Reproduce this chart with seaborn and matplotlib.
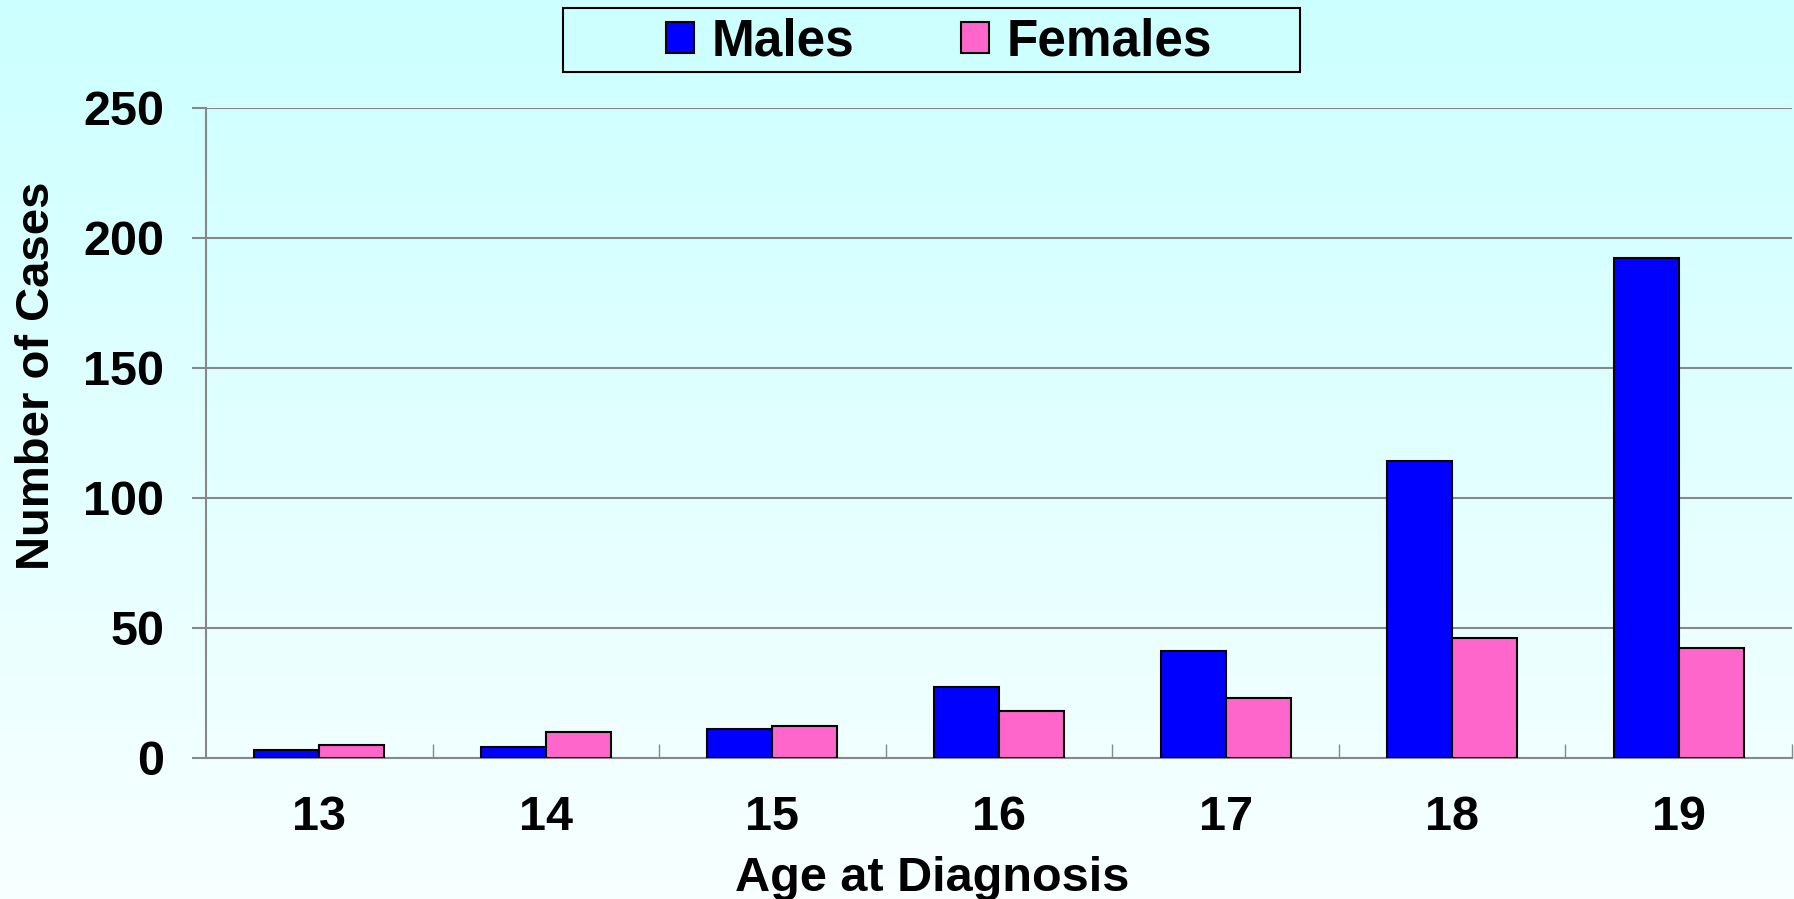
import numpy as np
import pandas as pd
import matplotlib
matplotlib.use("Agg")
import matplotlib.pyplot as plt
from matplotlib.patches import Patch, Rectangle
import seaborn as sns

# ---- data ----
ages = ["13", "14", "15", "16", "17", "18", "19"]
males = [3, 4, 11, 27, 41, 114, 192]
females = [5, 10, 12, 18, 23, 46, 42]
series_names = ["Males", "Females"]
y_ticks = [0, 50, 100, 150, 200, 250]

df = pd.DataFrame({
    "Age": ages * 2,
    "Cases": males + females,
    "Sex": [series_names[0]] * len(ages) + [series_names[1]] * len(ages),
})

sns.set_theme(style="white")
plt.rcParams["font.family"] = ["Liberation Sans", "DejaVu Sans"]
plt.rcParams["font.weight"] = "bold"
plt.rcParams["text.color"] = "black"

W, H = 1794, 899
fig = plt.figure(figsize=(W / 100, H / 100), dpi=100)

# background gradient
bg = fig.add_axes([0, 0, 1, 1], zorder=-10)
top = np.array([204, 255, 255]) / 255
bot = np.array([248, 255, 255]) / 255
t = np.linspace(0, 1, 256)[:, None]
grad = top[None, :] * (1 - t) + bot[None, :] * t
bg.imshow(grad[:, None, :].repeat(2, axis=1), aspect="auto", extent=[0, 1, 0, 1])
bg.set_axis_off()

ax = fig.add_axes([206 / W, 1 - 757.5 / H, (1792 - 206) / W, 650 / H])
ax.set_facecolor("none")

colors = {"Males": "#0000FF", "Females": "#FF66CC"}
sns.barplot(data=df, x="Age", y="Cases", hue="Sex", order=ages,
            hue_order=series_names, palette=colors, width=0.574,
            saturation=1, edgecolor="black", linewidth=1.5, ax=ax,
            legend=False, zorder=3)

ax.set_ylim(0, 250)
ax.set_xlim(-0.5, len(ages) - 0.5)
ax.set_yticks(y_ticks)
ax.set_yticklabels([str(v) for v in y_ticks], fontsize=35, fontweight="bold")
ax.set_xticks(range(len(ages)))
ax.set_xticklabels(ages, fontsize=35, fontweight="bold")
ax.set_xticks([i + 0.5 for i in range(len(ages))], minor=True)

ax.yaxis.grid(True, color="#888888", linewidth=1.5, zorder=0)
ax.set_axisbelow(True)
ax.xaxis.grid(False)

for s in ["top", "right"]:
    ax.spines[s].set_visible(False)
for s in ["left", "bottom"]:
    ax.spines[s].set_color("#888888")
    ax.spines[s].set_linewidth(1.5)

ax.tick_params(axis="y", which="major", direction="out", length=10, width=1.5,
               color="#888888", pad=20, left=True, labelcolor="black")
ax.tick_params(axis="x", which="major", length=0, pad=27, labelcolor="black")
ax.tick_params(axis="x", which="minor", direction="in", length=10, width=1,
               color="#888888", bottom=True)

ax.set_xlabel("Age at Diagnosis", fontsize=35, fontweight="bold", color="black")
ax.set_ylabel("Number of Cases", fontsize=34, fontweight="bold", color="black")
ax.xaxis.set_label_coords(0.458, -0.152)
ax.yaxis.set_label_coords(-0.0925, 0.587)

# legend
handles = [Patch(facecolor=colors[n], edgecolor="black", linewidth=1.5) for n in series_names]
fig.legend(handles, series_names, loc="center", bbox_to_anchor=(939 / W, 1 - 42 / H),
           ncol=2, frameon=False, prop={"size": 37, "weight": "bold"},
           handlelength=0.55, handleheight=0.55, handletextpad=0.33,
           columnspacing=2.08, borderpad=0.2, labelcolor="black")
fig.patches.append(Rectangle((563 / W, 1 - 72 / H), (1300 - 563) / W, 64 / H,
                             transform=fig.transFigure, fill=False,
                             edgecolor="black", linewidth=1.5, zorder=5))

fig.savefig("out.png", dpi=100)
